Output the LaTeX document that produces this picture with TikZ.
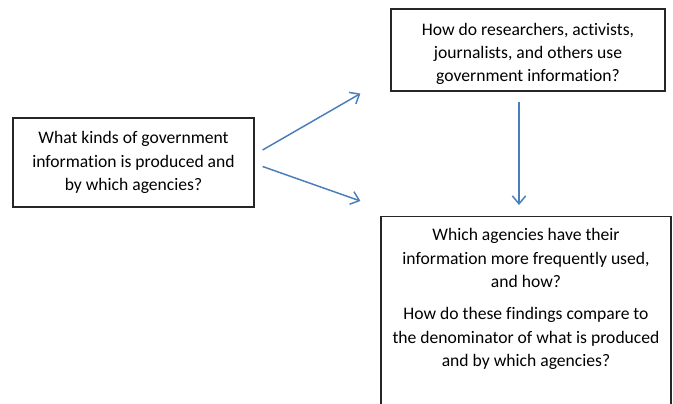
\documentclass[tikz,border=0pt]{standalone}
\usepackage{fontspec}
\setmainfont{Carlito}[Ligatures=NoCommon]
\usetikzlibrary{arrows.meta,positioning}

\definecolor{flowblue}{RGB}{74,126,187}

\begin{document}
\begin{tikzpicture}[x=0.75pt,y=-0.75pt,
  qbox/.style={draw=black!85, line width=0.9pt, align=center, inner sep=0pt,
    font=\fontsize{13.2}{17.6}\selectfont},
  flow/.style={draw=flowblue, line width=1.1pt, -{Straight Barb[length=6pt,width=10pt]}}]
\useasboundingbox (0,0) rectangle (673,403);
% the three questions
\node[qbox, minimum width=180.75pt, minimum height=66.75pt] (kinds) at (133.5,162.5) {What kinds of government\\information is produced and\\by which agencies?};
\node[qbox, minimum width=205.5pt, minimum height=61.5pt] (use) at (528,50) {\rule{0pt}{15pt}How do researchers, activists,\\journalists, and others use\\government information?};
\node[qbox, anchor=north, minimum width=217.5pt, inner ysep=9pt] (which) at (526,216) {Which agencies have their\\information more frequently used,\\and how?\\[6.5pt]How do these findings compare to\\the denominator of what is produced\\and by which agencies?\\[18pt]\strut};
% arrows between them
\draw[flow] ([shift={(8,-12.5)}]kinds.east) -- ([shift={(-30,2)}]use.south west);
\draw[flow] ([shift={(8,4)}]kinds.east) -- ([shift={(-20,-15)}]which.north west);
\draw[flow] ([shift={(-9,10)}]use.south) -- ([shift={(-7,-11)}]which.north);
\end{tikzpicture}
\end{document}
